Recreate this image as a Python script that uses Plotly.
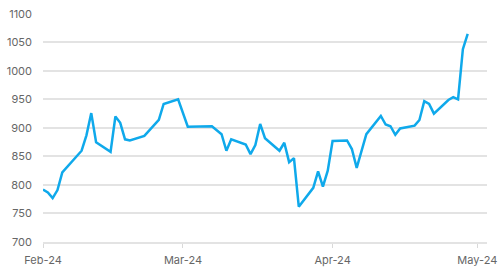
import plotly.graph_objects as go

dates = [
    "2024-02-01", "2024-02-02", "2024-02-03", "2024-02-04", "2024-02-05",
    "2024-02-09", "2024-02-10", "2024-02-11", "2024-02-12", "2024-02-15",
    "2024-02-16", "2024-02-17", "2024-02-18", "2024-02-19", "2024-02-22",
    "2024-02-25", "2024-02-26", "2024-02-29", "2024-03-02", "2024-03-07",
    "2024-03-09", "2024-03-10", "2024-03-11", "2024-03-14", "2024-03-15",
    "2024-03-16", "2024-03-17", "2024-03-18", "2024-03-21", "2024-03-22",
    "2024-03-23", "2024-03-24", "2024-03-25", "2024-03-28", "2024-03-29",
    "2024-03-30", "2024-03-31", "2024-04-01", "2024-04-04", "2024-04-05",
    "2024-04-06", "2024-04-08", "2024-04-11", "2024-04-12", "2024-04-13",
    "2024-04-14", "2024-04-15", "2024-04-18", "2024-04-19", "2024-04-20",
    "2024-04-21", "2024-04-22", "2024-04-25", "2024-04-26", "2024-04-27",
    "2024-04-28", "2024-04-29",
]
values = [
    792, 787, 777, 791, 822,
    860, 887, 926, 875, 858,
    920, 909, 880, 878, 886,
    914, 942, 950, 902, 903,
    889, 860, 880, 871, 854,
    870, 907, 882, 860, 874,
    840, 847, 762, 795, 824,
    797, 825, 877, 878, 863,
    830, 889, 921, 906, 903,
    888, 899, 904, 914, 947,
    942, 925, 949, 954, 950,
    1038, 1065,
]
y_ticks = [700, 750, 800, 850, 900, 950, 1000, 1050, 1100]
x_range = ["2024-02-01", "2024-05-03"]

fig = go.Figure(
    go.Scatter(
        x=dates, y=values, mode="lines",
        line=dict(color="#0fa9eb", width=2.5),
        hoverinfo="skip",
    )
)

font = dict(family="Inter, Roboto, sans-serif", size=11, color="#666666")

fig.update_layout(
    width=500, height=271,
    margin=dict(l=43, r=13, t=13, b=29),
    paper_bgcolor="white", plot_bgcolor="white",
    showlegend=False,
    font=font,
)
fig.update_xaxes(
    type="date", range=x_range,
    dtick="M1", tick0="2024-02-01", tickformat="%b-%y",
    showgrid=False, ticks="outside", ticklen=4, tickcolor="#d9d9d9",
    showline=True, linecolor="#e3e3e3", linewidth=1.5,
    tickfont=font, zeroline=False, ticklabelstandoff=3,
    automargin=False,
)
fig.update_yaxes(
    range=[700, 1101.5], tickvals=y_ticks,
    showgrid=True, gridcolor="#e3e3e3", gridwidth=1.5,
    zeroline=False, ticks="", ticklabelstandoff=10,
    tickfont=font, automargin=False,
)

fig.write_html("out.html")
